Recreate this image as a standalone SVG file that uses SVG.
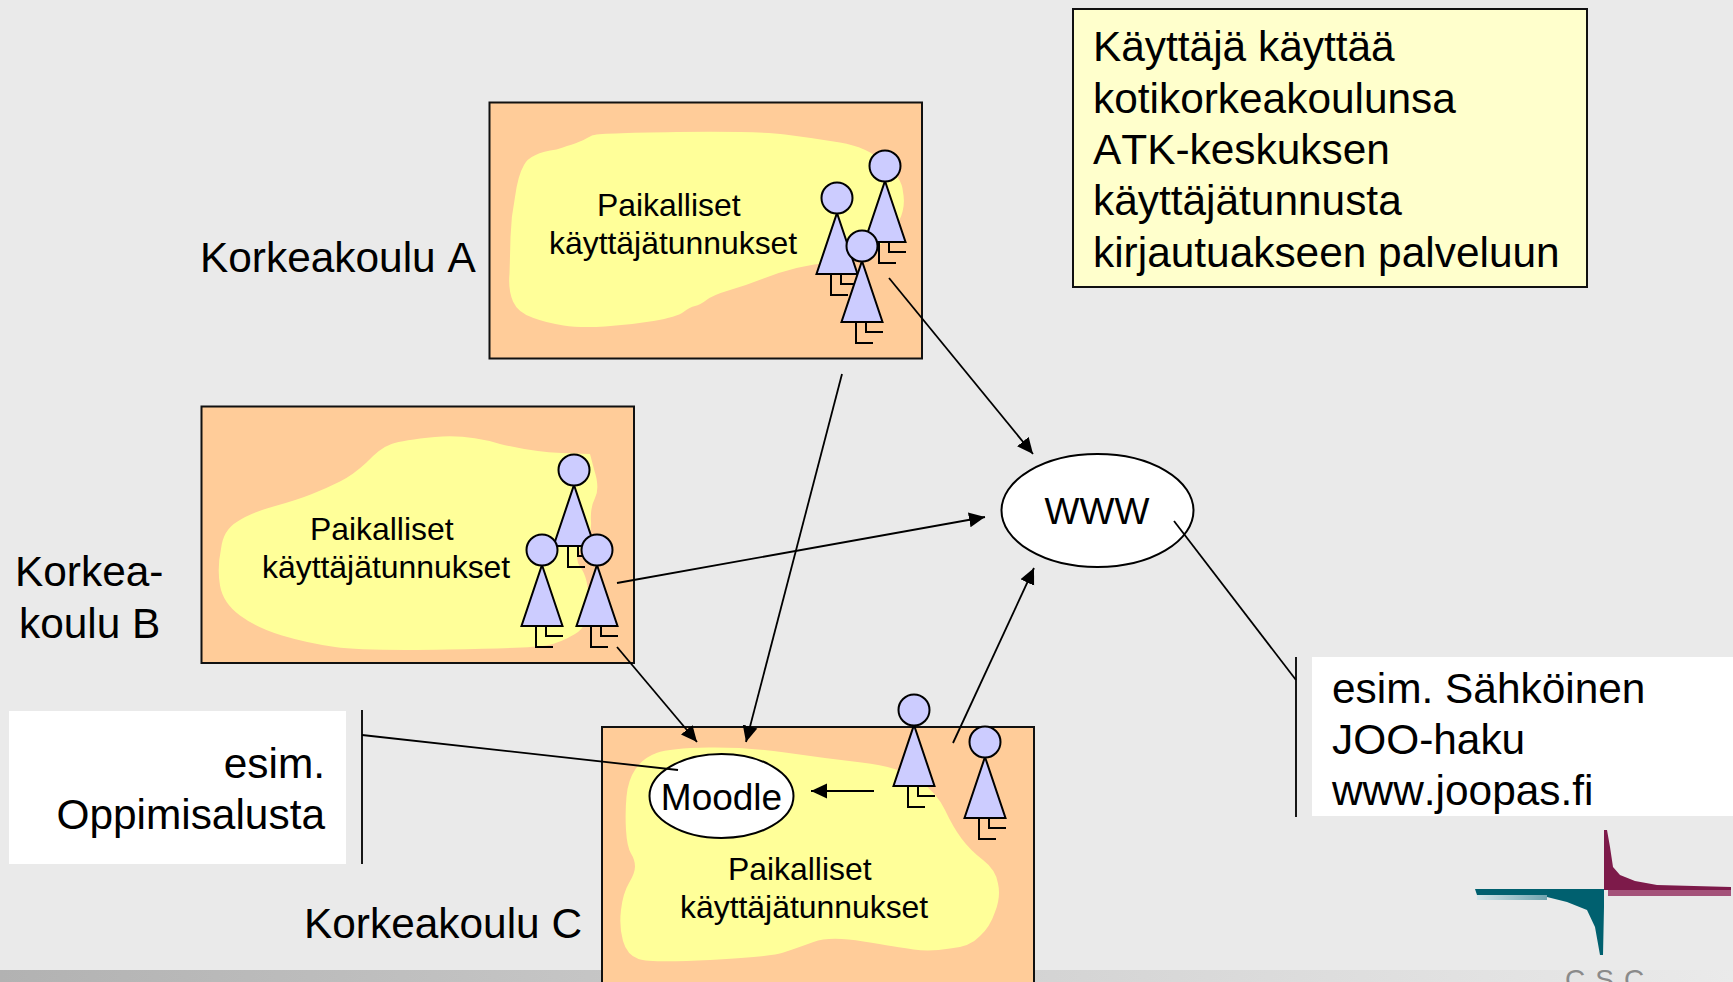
<svg xmlns="http://www.w3.org/2000/svg" width="1733" height="982" viewBox="0 0 1733 982">
  <style>
    text { font-family: "Liberation Sans", Arial, sans-serif; fill: #000; font-kerning: none; }
    .big { font-size: 42.4px; }
    .mid { font-size: 37px; }
    .small { font-size: 31.9px; }
    .box { fill: #ffcc99; stroke: #111; stroke-width: 2; }
    .blob { fill: #ffff99; }
    .conn { fill: none; stroke: #000; stroke-width: 1.8; }
    .ell { fill: #fff; stroke: #000; stroke-width: 2; }
    .pbody { fill: #ccccff; stroke: #000; stroke-width: 2; stroke-linejoin: miter; }
    .pleg { fill: none; stroke: #000; stroke-width: 2; }
  </style>
  <defs>
    <marker id="arrow" markerUnits="userSpaceOnUse" markerWidth="17" markerHeight="16" refX="16" refY="8" orient="auto">
      <path d="M0,0.5 L16,8 L0,15.5 Z" fill="#000"/>
    </marker>
    <linearGradient id="band" x1="0" x2="1" y1="0" y2="0">
      <stop offset="0" stop-color="#b2b2b2"/>
      <stop offset="1" stop-color="#eaeaea"/>
    </linearGradient>
    <linearGradient id="tealfade" x1="0" x2="1" y1="0" y2="0">
      <stop offset="0" stop-color="#d6e6ea"/>
      <stop offset="1" stop-color="#6fa3af"/>
    </linearGradient>
    <g id="person">
      <path class="pleg" d="M-6,76 V97 H11 M4,76 V86 H21"/>
      <path class="pbody" d="M0,15 L20.5,76 H-20.5 Z"/>
      <circle class="pbody" cx="0" cy="0" r="15.5"/>
    </g>
  </defs>

  <rect id="background" width="1733" height="982" fill="#eaeaea"/>
  <rect id="footer-band" x="0" y="970" width="1733" height="12" fill="url(#band)"/>

  <g id="note-top">
    <rect x="1073" y="9" width="514" height="278" fill="#ffffcc" stroke="#111" stroke-width="2"/>
    <text class="big" x="1093" y="61">Käyttäjä käyttää</text>
    <text class="big" x="1093" y="113">kotikorkeakoulunsa</text>
    <text class="big" x="1093" y="164">ATK-keskuksen</text>
    <text class="big" x="1093" y="215">käyttäjätunnusta</text>
    <text class="big" x="1093" y="267">kirjautuakseen palveluun</text>
  </g>

  <g id="korkeakoulu-a">
    <rect class="box" x="489.500" y="102.500" width="432.500" height="256"/>
    <path class="blob" d="M592,135.500 Q597,133 677,132 Q757,131 785,134.500 Q813,138 840,142.500 Q867,147 883.500,162 Q902,177 903,192 Q906,207 899,221 Q895,235 876,247.500 Q857,260 835,262 Q813,264 796.500,268 Q780,272 763.500,278.500 Q747,285 730,290 Q713,295 706.500,300 Q700,305 695,306 Q690,307 683.500,312 Q677,317 653.500,321 Q630,325 605,326.500 Q580,328 563.500,325.500 Q547,323 533.500,318 Q518,313 513,301.500 Q508,290 509.500,273.500 Q510,257 510.500,237 Q511,217 515,197 Q518,175 524,165 Q530,153 556.500,149.500 Q580,142 583.500,140 Q587,138 592,135.500 Z"/>
    <text class="small" x="597" y="216">Paikalliset</text>
    <text class="small" x="549" y="254">käyttäjätunnukset</text>
    <use href="#person" x="885" y="166"/>
    <use href="#person" x="837" y="198"/>
    <use href="#person" x="862" y="246"/>
    <text class="big" x="200" y="272">Korkeakoulu A</text>
  </g>

  <g id="korkeakoulu-b">
    <rect class="box" x="201.500" y="406.500" width="432.500" height="256.500"/>
    <path class="blob" d="M594.500,471 Q600,488 595,498 Q590,508 591,521.500 Q592,535 582.500,546.500 Q573,558 580.500,567.500 Q588,577 589,601 Q590,625 575,634 Q560,643 546.500,645.500 Q533,648 448,649.500 Q363,651 335,647 Q307,643 282,635.500 Q257,628 240,615.500 Q223,603 220,585.500 Q217,568 221,549 Q223,530 237.500,521.500 Q250,513 273.500,506.500 Q297,500 312,494 Q327,488 340,481.500 Q353,475 366.500,462.500 Q380,448 391.500,444 Q403,440 435,437 Q467,434 500,444 Q533,452 561.500,453 L590,454 Z"/>
    <text class="small" x="310" y="540">Paikalliset</text>
    <text class="small" x="262" y="578">käyttäjätunnukset</text>
    <use href="#person" x="574" y="470"/>
    <use href="#person" x="542" y="550"/>
    <use href="#person" x="597" y="550"/>
    <text class="big" x="15" y="586">Korkea-</text>
    <text class="big" x="19" y="638">koulu B</text>
  </g>

  <g id="korkeakoulu-c">
    <path class="box" d="M602,983 V727 H1034 V983"/>
    <path class="blob" d="M708.500,747.500 Q747,747 785,752.500 Q823,758 861.500,762.500 Q900,767 918.500,780 Q937,793 945,810 Q953,827 961.500,838.500 Q970,850 983,860 Q996,870 998,883.500 Q1001,897 995,912 Q990,927 980,936 Q970,947 950,948.500 Q930,952 913.500,949.500 Q897,947 863.500,941.500 Q830,936 813.500,942 Q797,948 783.500,952.500 Q770,957 710,960 Q650,963 638.500,959 Q627,955 623,941 Q619,927 621,910 Q623,893 629,883 Q635,873 635,866.500 Q635,860 631,853.500 Q627,847 626,830 Q625,813 626.500,796.500 Q628,780 635.500,769 Q643,758 656.500,753 Q670,748 708.500,747.500 Z"/>
    <text class="small" x="728" y="880">Paikalliset</text>
    <text class="small" x="680" y="918">käyttäjätunnukset</text>
    <use href="#person" x="914" y="710"/>
    <use href="#person" x="985" y="742"/>
    <text class="big" x="304" y="938">Korkeakoulu C</text>
  </g>

  <g id="moodle">
    <ellipse class="ell" cx="721.500" cy="796" rx="72" ry="42"/>
    <text class="mid" x="721.500" y="810" text-anchor="middle">Moodle</text>
  </g>

  <g id="www">
    <ellipse class="ell" cx="1097.500" cy="510.500" rx="96" ry="56.500"/>
    <text class="mid" x="1097" y="524" text-anchor="middle">WWW</text>
  </g>

  <g id="note-oppimisalusta">
    <rect x="9" y="711" width="337" height="153" fill="#fff"/>
    <text class="big" x="325" y="778" text-anchor="end">esim.</text>
    <text class="big" x="325" y="829" text-anchor="end">Oppimisalusta</text>
    <line class="conn" x1="362" y1="710" x2="362" y2="864"/>
  </g>

  <g id="note-joo">
    <rect x="1312" y="657" width="421" height="159" fill="#fff"/>
    <text class="big" x="1332" y="703">esim. Sähköinen</text>
    <text class="big" x="1332" y="754">JOO-haku</text>
    <text class="big" x="1332" y="805">www.joopas.fi</text>
    <line class="conn" x1="1296" y1="657" x2="1296" y2="817"/>
  </g>

  <g id="connectors">
    <line class="conn" x1="889" y1="278" x2="1033" y2="454" marker-end="url(#arrow)"/>
    <line class="conn" x1="842" y1="374" x2="746" y2="742" marker-end="url(#arrow)"/>
    <line class="conn" x1="617" y1="583" x2="985" y2="517" marker-end="url(#arrow)"/>
    <line class="conn" x1="617" y1="647" x2="697" y2="742" marker-end="url(#arrow)"/>
    <line class="conn" x1="953" y1="743" x2="1034" y2="568" marker-end="url(#arrow)"/>
    <line class="conn" x1="874" y1="791" x2="811" y2="791" marker-end="url(#arrow)"/>
    <line class="conn" x1="362" y1="735" x2="678" y2="770"/>
    <line class="conn" x1="1174" y1="521" x2="1296" y2="680"/>
  </g>

  <g id="logo">
    <path d="M1604,830 L1607,830 L1610,847 L1613,867 L1620,875 L1635,881 L1657,885 L1731,887 V890 H1604 Z" fill="#7d1a4a"/>
    <rect x="1608" y="890" width="123" height="6" fill="#a4527a"/>
    <path d="M1475,889 H1604 V907 L1603,955 H1600 L1595,927 L1587,910 L1567,902 L1547,897 L1545,895 H1477 Z" fill="#00606f"/>
    <rect x="1477" y="895" width="70" height="5" fill="url(#tealfade)"/>
    <text x="1565" y="989" font-size="28" letter-spacing="10" style="fill:#8a8a8a">CSC</text>
  </g>
</svg>
